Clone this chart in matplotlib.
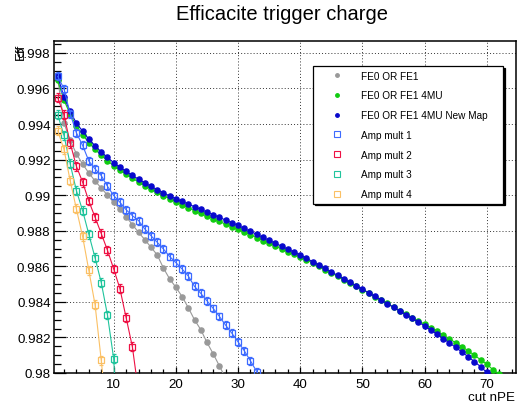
import matplotlib
matplotlib.use("Agg")
import matplotlib.pyplot as plt
from matplotlib.lines import Line2D
from matplotlib.ticker import FixedLocator, MultipleLocator

plt.rcParams['font.family'] = ['Liberation Sans', 'DejaVu Sans']

# ---------------- data ----------------
x_fe = list(range(1, 29))
y_fe = [0.99655, 0.99406, 0.99308, 0.99233, 0.99175, 0.99125, 0.99080, 0.99040,
        0.99000, 0.98960, 0.98920, 0.98878, 0.98835, 0.98791, 0.98750, 0.98707,
        0.98664, 0.98590, 0.98529, 0.98482, 0.98430, 0.98367, 0.98299, 0.98244,
        0.98172, 0.98108, 0.98040, 0.97970]

x_4mu = list(range(1, 73))
y_4mu = [0.99645, 0.99535, 0.99455, 0.99390, 0.99340, 0.99295, 0.99258, 0.99224,
         0.99193, 0.99165, 0.99140, 0.99117, 0.99095, 0.99074, 0.99054, 0.99035,
         0.99016, 0.98998, 0.98980, 0.98962, 0.98945, 0.98929, 0.98913, 0.98897,
         0.98882, 0.98867, 0.98852, 0.98837, 0.98822, 0.98808, 0.98792, 0.98777,
         0.98761, 0.98745, 0.98729, 0.98713, 0.98697, 0.98681, 0.98667, 0.98655,
         0.98637, 0.98619, 0.98600, 0.98582, 0.98563, 0.98544, 0.98525, 0.98506,
         0.98488, 0.98469, 0.98450, 0.98430, 0.98411, 0.98391, 0.98371, 0.98351,
         0.98331, 0.98311, 0.98292, 0.98275, 0.98255, 0.98235, 0.98214, 0.98192,
         0.98170, 0.98148, 0.98125, 0.98100, 0.98075, 0.98050, 0.98018, 0.97995]

x_new = list(range(1, 72))
y_new = [0.99668, 0.99552, 0.99471, 0.99405, 0.99360, 0.99315, 0.99278, 0.99243,
         0.99212, 0.99183, 0.99158, 0.99134, 0.99111, 0.99090, 0.99070, 0.99050,
         0.99031, 0.99013, 0.98996, 0.98980, 0.98965, 0.98950, 0.98935, 0.98920,
         0.98905, 0.98890, 0.98875, 0.98860, 0.98845, 0.98830, 0.98813, 0.98796,
         0.98780, 0.98763, 0.98746, 0.98730, 0.98713, 0.98697, 0.98680, 0.98664,
         0.98645, 0.98626, 0.98607, 0.98588, 0.98569, 0.98549, 0.98530, 0.98510,
         0.98491, 0.98472, 0.98451, 0.98431, 0.98410, 0.98390, 0.98369, 0.98348,
         0.98328, 0.98307, 0.98286, 0.98265, 0.98242, 0.98218, 0.98194, 0.98169,
         0.98144, 0.98118, 0.98092, 0.98064, 0.98036, 0.98003, 0.97970]

x_amp1 = list(range(1, 35))
y_amp1 = [0.99668, 0.99599, 0.99458, 0.99351, 0.99280, 0.99192, 0.99148, 0.99110,
          0.99050, 0.98998, 0.98960, 0.98918, 0.98885, 0.98857, 0.98810, 0.98772,
          0.98735, 0.98697, 0.98655, 0.98621, 0.98585, 0.98545, 0.98487, 0.98448,
          0.98406, 0.98363, 0.98318, 0.98269, 0.98224, 0.98175, 0.98125, 0.98068,
          0.98008, 0.97950]

x_amp2 = list(range(1, 15))
y_amp2 = [0.99548, 0.99452, 0.99293, 0.99163, 0.99073, 0.98967, 0.98876, 0.98784,
          0.98690, 0.98585, 0.98474, 0.98311, 0.98148, 0.97890]

x_amp3 = list(range(1, 12))
y_amp3 = [0.99452, 0.99336, 0.99176, 0.99026, 0.98913, 0.98780, 0.98648, 0.98508,
          0.98326, 0.98080, 0.97400]

x_amp4 = list(range(1, 10))
y_amp4 = [0.99362, 0.99258, 0.99082, 0.98923, 0.98768, 0.98577, 0.98385, 0.98071,
          0.97720]

err_amp = [0.00022, 0.00025, 0.00025, 0.00025]

labels = ["FE0 OR FE1", "FE0 OR FE1 4MU", "FE0 OR FE1 4MU New Map",
          "Amp mult 1", "Amp mult 2", "Amp mult 3", "Amp mult 4"]
colors = ["#999999", "#11cc11", "#0808cc", "#3d6bff", "#ee1144", "#20c49c", "#fbc064"]

y_ticks = [0.98, 0.982, 0.984, 0.986, 0.988, 0.99, 0.992, 0.994, 0.996, 0.998]
y_ticklabels = ["0.98", "0.982", "0.984", "0.986", "0.988", "0.99", "0.992",
                "0.994", "0.996", "0.998"]
x_ticks = [10, 20, 30, 40, 50, 60, 70]
x_ticklabels = ["10", "20", "30", "40", "50", "60", "70"]

# ---------------- figure ----------------
W, H = 521, 406
fig = plt.figure(figsize=(W / 100, H / 100), dpi=100)
L, R, T, B = 54, 516, 42, 374
ax = fig.add_axes([L / W, 1 - B / H, (R - L) / W, (B - T) / H])

ax.set_xlim(0.4, 74.7)
ax.set_ylim(0.98, 0.99867)

ax.set_axisbelow(True)
ax.grid(True, which='major', linestyle=(0, (1, 2.2)), color='0.2', linewidth=0.7)

ms_c = 3.7
ax.plot(x_fe, y_fe, '-o', color=colors[0], ms=ms_c, lw=0.8, zorder=3)
ax.plot(x_4mu, y_4mu, '-o', color=colors[1], ms=ms_c, lw=0.8, zorder=3)
ax.plot(x_new, y_new, '-o', color=colors[2], ms=ms_c, lw=0.8, zorder=3)

amps = [(x_amp1, y_amp1), (x_amp2, y_amp2), (x_amp3, y_amp3), (x_amp4, y_amp4)]
for i, (xa, ya) in enumerate(amps):
    c = colors[3 + i]
    ax.errorbar(xa, ya, yerr=err_amp[i], fmt='-s', color=c, mfc='none', mec=c,
                ms=4.3, mew=0.9, lw=0.8, elinewidth=0.8, capsize=1.3,
                capthick=0.8, zorder=4)

# ticks
ax.xaxis.set_major_locator(FixedLocator(x_ticks))
ax.set_xticklabels(x_ticklabels)
ax.xaxis.set_minor_locator(MultipleLocator(2))
ax.yaxis.set_major_locator(FixedLocator(y_ticks))
ax.set_yticklabels(y_ticklabels)
ax.yaxis.set_minor_locator(MultipleLocator(0.0005))

ax.tick_params(axis='both', which='both', direction='in', labelsize=9.6,
               width=0.9, colors='black')
ax.tick_params(axis='y', which='major', length=8.6, pad=2.5)
ax.tick_params(axis='y', which='minor', length=5.0)
ax.tick_params(axis='x', which='major', length=4.5, pad=3.5)
ax.tick_params(axis='x', which='minor', length=2.6)
for s in ax.spines.values():
    s.set_linewidth(1.1)

# axis titles
ax.text((21 - L) / (R - L), 1 - (44 - T) / (B - T), "Eff", rotation=90,
        ha='center', va='top', fontsize=9.6, transform=ax.transAxes)
ax.text((515 - L) / (R - L), -(398 - B) / (B - T), "cut nPE",
        ha='right', va='center', fontsize=9.6, transform=ax.transAxes)

fig.text(282.5 / W, 1 - 14 / H, "Efficacite trigger charge", ha='center',
         va='center', fontsize=14.5)

# legend
handles = []
for i in range(3):
    handles.append(Line2D([], [], linestyle='none', marker='o', color=colors[i], ms=2.5))
for i in range(4):
    handles.append(Line2D([], [], linestyle='none', marker='s', mfc='none',
                          mec=colors[3 + i], ms=4.0, mew=0.8))
lx0 = (313 - L) / (R - L)
lx1 = (503 - L) / (R - L)
ly1 = (B - 67) / (B - T)
ly0 = (B - 217) / (B - T)
leg = ax.legend(handles, labels, loc='upper left',
                bbox_to_anchor=(lx0, ly0, lx1 - lx0, ly1 - ly0), mode='expand',
                borderaxespad=0, fontsize=7.2, frameon=True, fancybox=False,
                edgecolor='black', framealpha=1, borderpad=0.45,
                labelspacing=0.98, handlelength=3.9, handletextpad=0.45,
                shadow={'ox': 1.2, 'oy': -1.2, 'color': 'black', 'alpha': 1})
leg.get_frame().set_linewidth(0.9)
leg.set_zorder(10)

fig.savefig("out.png", dpi=100)
